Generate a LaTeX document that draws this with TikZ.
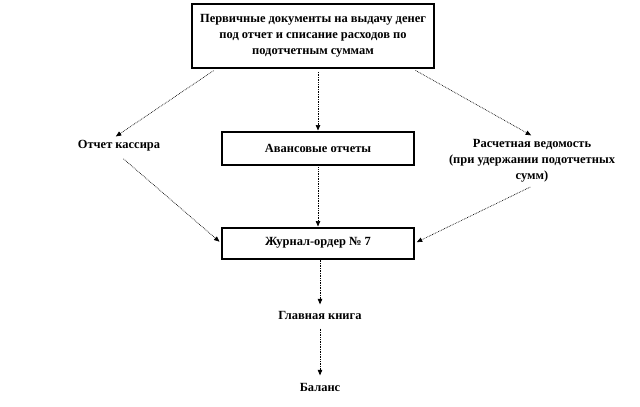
\documentclass[tikz,border=0pt]{standalone}
\usepackage{fontspec}
\setmainfont{Liberation Serif}
\usetikzlibrary{arrows.meta}
\begin{document}
\begin{tikzpicture}[x=1bp,y=-1bp,
  every node/.style={font=\bfseries\fontsize{12.5}{16.3}\selectfont, align=center},
  boxst/.style={draw, line width=2pt, inner sep=0pt},
  arr/.style={densely dotted, line width=0.7pt, -{Triangle[length=5.5pt,width=4.5pt]}}]
\useasboundingbox (0,0) rectangle (640,406);
\node[boxst, minimum width=242bp, minimum height=64bp] (top) at (313,36)
  {Первичные документы на выдачу денег\\под отчет и списание расходов по\\подотчетным суммам};
\node[boxst, minimum width=192bp, minimum height=33bp] (avans) at (318,148) {Авансовые отчеты};
\node[boxst, minimum width=192bp, minimum height=31bp] (jour) at (318,243) {Журнал-ордер № 7};
\node (kass) at (119,146) {Отчет кассира};
\node (rasch) at (532,161) {Расчетная ведомость\\(при удержании подотчетных\\сумм)};
\node (gk) at (320,315) {Главная книга};
\node (bal) at (320,387) {Баланс};
\draw[arr, shorten <=3pt, shorten >=1pt] ([xshift=25bp]top.south west) -- ([xshift=-4bp]kass.north);
\draw[arr, shorten <=3pt] (top.south -| avans.north) -- (avans.north);
\draw[arr, shorten <=3pt, shorten >=1pt] ([xshift=-22bp]top.south east) -- (rasch.north);
\draw[arr, shorten <=6pt, shorten >=2pt] (kass.south) -- (jour.west);
\draw[arr, shorten <=2pt] (avans.south) -- (jour.north);
\draw[arr, shorten <=2pt, shorten >=2pt] (rasch.south) -- (jour.east);
\draw[arr, shorten >=3pt] (jour.south -| gk.north) -- (gk.north);
\draw[arr, shorten <=6pt, shorten >=4pt] (gk.south) -- (bal.north);
\end{tikzpicture}
\end{document}
